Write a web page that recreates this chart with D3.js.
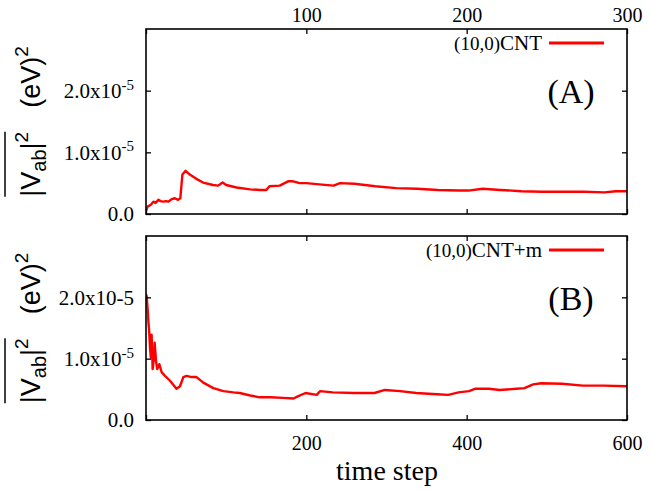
<!DOCTYPE html>
<html>
<head>
<meta charset="utf-8">
<script src="https://cdn.jsdelivr.net/npm/d3@7"></script>
<style>
  html, body { margin: 0; padding: 0; background: #fff; }
  svg { display: block; }
</style>
</head>
<body>
<svg id="chart" width="654" height="491"></svg>
<script>
// values, in (eV)^2
const stepsA = [0, 1, 3, 4.6, 6, 7.7, 9, 10.8, 12.5, 14, 16, 18, 20, 21.4, 22.7, 24.7, 27.3, 31.4, 35.6, 41.8,
  45, 47.8, 50, 56.5, 65, 71, 75, 77, 83.4, 88.6, 91.7, 95.8, 100, 108, 117, 121, 130, 143, 156, 169,
  182, 195, 201, 210, 221, 234, 247, 260, 273, 286, 293, 300];
const valuesA = [0.05, 0.12, 0.15, 0.20, 0.18, 0.23, 0.21, 0.20, 0.21, 0.20, 0.24, 0.255, 0.23, 0.255, 0.64, 0.70, 0.64, 0.57, 0.51, 0.47,
  0.46, 0.51, 0.47, 0.43, 0.40, 0.39, 0.39, 0.45, 0.46, 0.53, 0.53, 0.50, 0.50, 0.48, 0.46, 0.50, 0.49, 0.45, 0.42, 0.41,
  0.39, 0.38, 0.38, 0.41, 0.39, 0.37, 0.36, 0.36, 0.36, 0.35, 0.37, 0.37].map(v => v * 1e-5);

const stepsB = [0, 0.8, 2, 3, 4, 5, 6, 7, 8.3, 10, 10.8, 12.5, 14, 16.6, 19.5, 23.7, 30, 38, 42.4, 46.6,
  50.7, 57, 63, 71.5, 84, 96.5, 109, 117, 130, 142, 155, 171, 184, 190, 199, 213, 217, 233, 259, 285,
  298, 317, 337, 363, 377, 390, 403, 411, 428, 441, 462, 472, 483, 493, 519, 545, 571, 600];
const valuesB = [2.05, 2.02, 1.82, 1.60, 1.44, 1.18, 1.02, 1.39, 0.83, 1.02, 1.26, 0.96, 0.83, 0.91, 0.78, 0.72, 0.64, 0.51, 0.55, 0.70,
  0.72, 0.70, 0.70, 0.61, 0.52, 0.47, 0.45, 0.44, 0.40, 0.37, 0.37, 0.36, 0.35, 0.39, 0.44, 0.41, 0.47, 0.45, 0.44, 0.44,
  0.49, 0.47, 0.44, 0.42, 0.41, 0.45, 0.47, 0.51, 0.51, 0.49, 0.51, 0.52, 0.58, 0.60, 0.59, 0.56, 0.56, 0.55].map(v => v * 1e-5);

const yTicks = [0, 1e-5, 2e-5];
const yTickLabelsA = [['0.0', ''], ['1.0x10', '-5'], ['2.0x10', '-5']];
const yTickLabelsB = [['0.0', ''], ['1.0x10', '-5'], ['2.0x10-5', '']];
const xTicksA = [0, 100, 200, 300];
const xTicksB = [0, 200, 400, 600];

const serif = "'Liberation Serif', 'Times New Roman', serif";
const sans = "'Liberation Sans', Arial, sans-serif";
const red = '#ff0000';

const svg = d3.select('#chart');
const left = 146, right = 627;

const panels = [
  { id: 'A', top: 29, bottom: 214, xMax: 300, xs: stepsA, ys: valuesA, xTicks: xTicksA, xLabelsTop: true,
    yLabels: yTickLabelsA, legend: ['(10,0)', 'CNT'], legendY: 43, tag: '(A)', tagY: 103 },
  { id: 'B', top: 236, bottom: 420, xMax: 600, xs: stepsB, ys: valuesB, xTicks: xTicksB, xLabelsTop: false,
    yLabels: yTickLabelsB, legend: ['(10,0)', 'CNT+m'], legendY: 250, tag: '(B)', tagY: 310 }
];

panels.forEach(p => {
  const x = d3.scaleLinear().domain([0, p.xMax]).range([left, right]);
  const y = d3.scaleLinear().domain([0, 3e-5]).range([p.bottom, p.top]);

  svg.append('clipPath').attr('id', 'clip' + p.id)
    .append('rect').attr('x', left).attr('y', p.top).attr('width', right - left).attr('height', p.bottom - p.top);

  const line = d3.line().x((d, i) => x(p.xs[i])).y(d => y(d));
  svg.append('path')
    .datum(p.ys)
    .attr('clip-path', `url(#clip${p.id})`)
    .attr('d', line)
    .attr('fill', 'none')
    .attr('stroke', red)
    .attr('stroke-width', 2.4)
    .attr('stroke-linejoin', 'round');

  const styleAxis = g => {
    g.select('.domain').remove();
    g.selectAll('line').attr('stroke', '#000').attr('stroke-width', 1.3);
    g.attr('font-family', serif).attr('font-size', 20);
  };

  // left axis with labels
  svg.append('g')
    .attr('transform', `translate(${left},0)`)
    .call(d3.axisLeft(y).tickValues(yTicks).tickSize(-5).tickPadding(12))
    .call(styleAxis)
    .call(g => g.selectAll('text').each(function (d, i) {
      const t = d3.select(this).text(null).attr('font-size', 21);
      t.append('tspan').text(p.yLabels[i][0]);
      if (p.yLabels[i][1]) {
        t.append('tspan').attr('font-size', 15).attr('dy', '-0.55em').text(p.yLabels[i][1]);
      }
    }));

  // right mirror ticks
  svg.append('g')
    .attr('transform', `translate(${right},0)`)
    .call(d3.axisRight(y).tickValues(yTicks).tickSize(-5).tickFormat(''))
    .call(styleAxis);

  // top and bottom ticks, labels only on one side
  const xTop = d3.axisTop(x).tickValues(p.xTicks).tickSize(-5).tickPadding(7);
  const xBot = d3.axisBottom(x).tickValues(p.xTicks).tickSize(-5).tickPadding(16);
  const noLabel = d => '';
  svg.append('g').attr('transform', `translate(0,${p.top})`)
    .call(p.xLabelsTop ? xTop.tickFormat(d => d === 0 ? '' : d) : xTop.tickFormat(noLabel))
    .call(styleAxis);
  svg.append('g').attr('transform', `translate(0,${p.bottom})`)
    .call(p.xLabelsTop ? xBot.tickFormat(noLabel) : xBot.tickFormat(d => d === 0 ? '' : d))
    .call(styleAxis);

  // frame
  svg.append('rect')
    .attr('x', left).attr('y', p.top)
    .attr('width', right - left).attr('height', p.bottom - p.top)
    .attr('fill', 'none').attr('stroke', '#000').attr('stroke-width', 1.6);

  // legend
  const lg = svg.append('text')
    .attr('x', 542).attr('y', p.legendY).attr('dy', '0.35em')
    .attr('text-anchor', 'end').attr('font-family', serif).attr('font-size', 21);
  lg.append('tspan').attr('font-size', 19).text(p.legend[0]);
  lg.append('tspan').text(p.legend[1]);
  svg.append('line')
    .attr('x1', 549).attr('x2', 604).attr('y1', p.legendY).attr('y2', p.legendY)
    .attr('stroke', red).attr('stroke-width', 3);

  // panel tag
  svg.append('text')
    .attr('x', 571).attr('y', p.tagY).attr('text-anchor', 'middle')
    .attr('font-family', serif).attr('font-size', 34).text(p.tag);

  // rotated y label: overline |V_ab|^2  (eV)^2
  const cy = (p.top + p.bottom) / 2;
  const lab = svg.append('g').attr('transform', `translate(40,${cy}) rotate(-90)`)
    .attr('font-family', sans).attr('font-size', 27).attr('fill', '#000');
  const t1 = lab.append('text');
  t1.append('tspan').text('|V');
  t1.append('tspan').attr('font-size', 20).attr('dy', 6).text('ab');
  t1.append('tspan').attr('dy', -6).text('|');
  t1.append('tspan').attr('font-size', 19).attr('dy', -12).text('2');
  const t2 = lab.append('text');
  t2.append('tspan').text('(eV)');
  t2.append('tspan').attr('font-size', 19).attr('dy', -12).text('2');
  const l1 = t1.node().getComputedTextLength();
  const l2 = t2.node().getComputedTextLength();
  const gap = 24;
  const x0 = -(l1 + gap + l2) / 2;
  t1.attr('x', x0);
  t2.attr('x', x0 + l1 + gap);
  lab.append('line')
    .attr('x1', x0).attr('x2', x0 + l1)
    .attr('y1', -35).attr('y2', -35)
    .attr('stroke', '#000').attr('stroke-width', 1.5);
});

// x axis title
svg.append('text')
  .attr('x', 387).attr('y', 480).attr('text-anchor', 'middle')
  .attr('font-family', serif).attr('font-size', 28).text('time step');
</script>
</body>
</html>
